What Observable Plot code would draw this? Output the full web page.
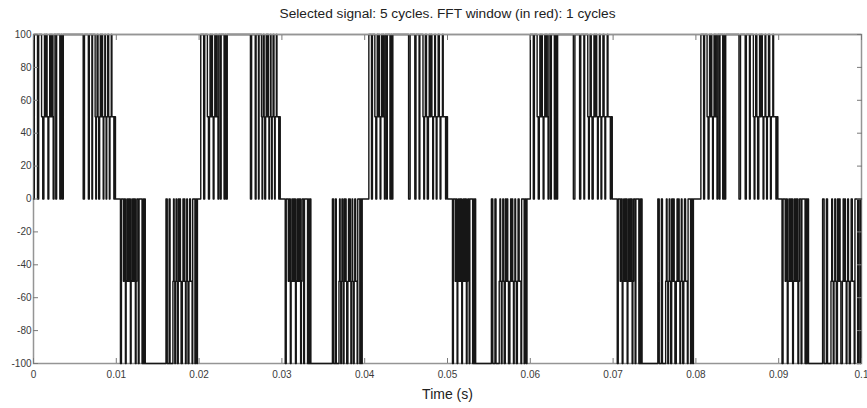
<!DOCTYPE html>
<html>
<head>
<meta charset="utf-8">
<script src="https://cdn.jsdelivr.net/npm/d3@7"></script>
<script src="https://cdn.jsdelivr.net/npm/@observablehq/plot@0.6"></script>
<style>
  html, body { margin: 0; padding: 0; background: #fff; }
</style>
</head>
<body>
<div id="chart"></div>
<script>
// ---- Data (times in ms) ----
const titleText = "Selected signal: 5 cycles. FFT window (in red): 1 cycles";
const xLabel = "Time (s)";
const xTicks = [0, 0.01, 0.02, 0.03, 0.04, 0.05, 0.06, 0.07, 0.08, 0.09, 0.1];
const yTicks = [-100, -80, -60, -40, -20, 0, 20, 40, 60, 80, 100];

// switching pattern of each pulse group: position inside the group (0..1) and level after the switch
const groupAFrac  = [0, .11, .15, .25, .29, .33, .35, .38, .41, .44, .47, .50, .53, .56, .59, .62, .65, .68, .74, .77, .88, .92, .96, 1];
const groupALevel = [100, 0, 100, 50, 0, 50, 100, 50, 100, 50, 0, 50, 100, 50, 100, 50, 0, 100, 0, 100, 0, 100, 0, 100];

const groupBFrac  = [0, .04, .16, .19, .27, .29, .37, .39, .41, .43, .46, .48, .51, .53, .55, .57, .60, .62, .64, .67, .69, .71, .73, .76, .79, .81, .83, .87, .89, .95, .97, 1];
const groupBLevel = [0, 100, 0, 100, 0, 100, 50, 0, 50, 100, 50, 0, 50, 100, 50, 100, 50, 0, 50, 100, 50, 0, 50, 100, 50, 0, 50, 100, 50, 0, 50, 0];

const groupCFrac  = [0, .04, .12, .15, .20, .23, .26, .29, .32, .35, .37, .40, .43, .46, .48, .51, .54, .56, .60, .63, .66, .72, .75, .87, .91, .93, .96, 1];
const groupCLevel = [-100, 0, -50, 0, -100, -50, 0, -50, 0, -50, 0, -100, -50, 0, -50, 0, -50, 0, -100, -50, 0, -100, 0, -100, 0, -100, 0, -100];

const groupDFrac  = [0, .04, .10, .13, .22, .24, .26, .28, .30, .32, .34, .36, .39, .42, .44, .46, .48, .52, .54, .56, .58, .60, .62, .64, .66, .68, .70, .73, .75, .78, .83, .85, .92, .94, .98, 1];
const groupDLevel = [0, -100, 0, -100, -50, 0, -50, -100, -50, 0, -50, -100, 0, -50, 0, -50, -100, -50, 0, -50, 0, -50, -100, -50, 0, -50, -100, -50, 0, -50, -100, 0, -100, 0, -100, 0];

// where each pulse group starts and ends in each of the 5 cycles (ms)
const groupAStart = [0.1, 20.2, 40.5, 60.0, 80.6];
const groupAEnd   = [3.6, 23.4, 43.4, 63.3, 83.6];
const groupBStart = [6.0, 26.2, 45.3, 65.2, 85.2];
const groupBEnd   = [9.9, 29.8, 50.0, 69.9, 89.9];
const groupCStart = [10.5, 30.4, 50.6, 70.5, 90.4];
const groupCEnd   = [13.5, 33.5, 53.4, 73.5, 93.6];
const groupDStart = [16.0, 36.1, 55.3, 75.4, 95.3];
const groupDEnd   = [19.8, 39.7, 59.6, 79.7, 99.9];

// ---- Build the step signal table ----
const groups = [
  [groupAFrac, groupALevel, groupAStart, groupAEnd],
  [groupBFrac, groupBLevel, groupBStart, groupBEnd],
  [groupCFrac, groupCLevel, groupCStart, groupCEnd],
  [groupDFrac, groupDLevel, groupDStart, groupDEnd]
];
const signal = [{t: 0, v: 0}];
for (let k = 0; k < 5; k++) {
  for (const [fr, lv, st, en] of groups) {
    const s = st[k], e = en[k];
    fr.forEach((f, i) => signal.push({t: (s + f * (e - s)) / 1000, v: lv[i]}));
  }
}
signal.push({t: 0.1, v: 0});

const fmtX = d => d === 0 ? "0" : d.toFixed(2).replace(/0$/, "");
const tickGray = "#7a7a7a";
const labelColor = "#3a3a3a";

const chart = Plot.plot({
  width: 867,
  height: 408,
  marginLeft: 33,
  marginRight: 6,
  marginTop: 34,
  marginBottom: 45,
  style: {fontFamily: "'Liberation Sans', Arial, sans-serif", background: "#fff", overflow: "visible"},
  x: {domain: [0, 0.1]},
  y: {domain: [-100, 100]},
  marks: [
    Plot.frame({stroke: "#959595", strokeWidth: 1.5}),
    Plot.line(signal, {x: "t", y: "v", curve: "step-after", stroke: "#161616", strokeWidth: 1.4}),
    Plot.ruleY([100], {stroke: "#959595", strokeWidth: 1.5}),
    Plot.axisX({anchor: "bottom", ticks: xTicks, tickSize: -5, tickPadding: 12, tickFormat: fmtX, stroke: tickGray, fill: labelColor, fontSize: 10, label: null}),
    Plot.axisX({anchor: "top", ticks: xTicks, tickSize: -5, tickFormat: () => "", stroke: tickGray, label: null}),
    Plot.axisY({anchor: "left", ticks: yTicks, tickSize: -5, tickPadding: 7, tickFormat: d => String(d), stroke: tickGray, fill: labelColor, fontSize: 10, label: null}),
    Plot.axisY({anchor: "right", ticks: yTicks, tickSize: -5, tickFormat: () => "", stroke: tickGray, label: null}),
    Plot.text([titleText], {text: d => d, frameAnchor: "top", dy: -26, fontSize: 13.7, fill: "#222"}),
    Plot.text([xLabel], {text: d => d, frameAnchor: "bottom", dy: 35, fontSize: 14, fill: "#222"})
  ]
});
document.getElementById("chart").appendChild(chart);
</script>
</body>
</html>
